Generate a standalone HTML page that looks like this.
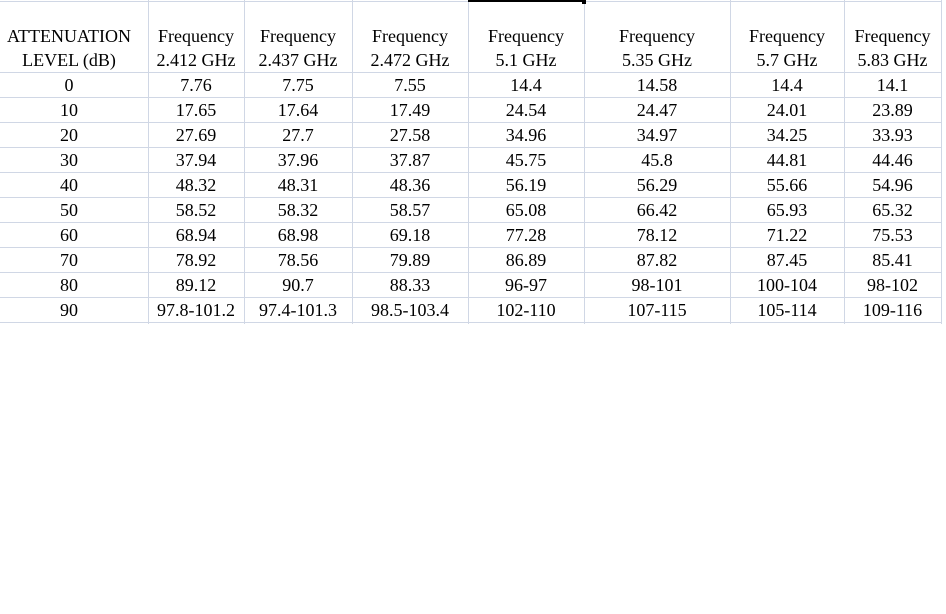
<!DOCTYPE html>
<html><head><meta charset="utf-8"><style>
body{margin:0;background:#fff;width:946px;height:614px;overflow:hidden;position:relative;font-family:"Liberation Serif",serif;font-size:18px;color:#000}
.v{position:absolute;top:0;width:1px;height:324px;background:#d0d7e5}
.h{position:absolute;left:0;width:942px;height:1px;background:#d0d7e5}
.t{position:absolute;text-align:center;line-height:24px;white-space:nowrap}
</style></head><body>
<div class="h" style="top:1px"></div>
<div id="g"></div>
<div style="position:absolute;left:468px;top:0;width:116px;height:2px;background:#000"></div>
<div style="position:absolute;left:582px;top:0;width:4px;height:4px;background:#000"></div>
<script>
var xs=[0,148,244,352,468,584,730,844,941];
var g=document.getElementById('g'),h='';
for(var i=1;i<xs.length;i++)h+='<div class="v" style="left:'+xs[i]+'px"></div>';
for(var y=72;y<=322;y+=25)h+='<div class="h" style="top:'+y+'px"></div>';
var head=[['ATTENUATION','LEVEL (dB)'],['Frequency','2.412 GHz'],['Frequency','2.437 GHz'],['Frequency','2.472 GHz'],['Frequency','5.1 GHz'],['Frequency','5.35 GHz'],['Frequency','5.7 GHz'],['Frequency','5.83 GHz']];
var rows=[['0','7.76','7.75','7.55','14.4','14.58','14.4','14.1'],['10','17.65','17.64','17.49','24.54','24.47','24.01','23.89'],['20','27.69','27.7','27.58','34.96','34.97','34.25','33.93'],['30','37.94','37.96','37.87','45.75','45.8','44.81','44.46'],['40','48.32','48.31','48.36','56.19','56.29','55.66','54.96'],['50','58.52','58.32','58.57','65.08','66.42','65.93','65.32'],['60','68.94','68.98','69.18','77.28','78.12','71.22','75.53'],['70','78.92','78.56','79.89','86.89','87.82','87.45','85.41'],['80','89.12','90.7','88.33','96-97','98-101','100-104','98-102'],['90','97.8-101.2','97.4-101.3','98.5-103.4','102-110','107-115','105-114','109-116']];
for(var c=0;c<8;c++){var l=xs[c],w=xs[c+1]-xs[c];if(c==0)w=138;
h+='<div class="t" style="left:'+l+'px;width:'+w+'px;top:24px">'+head[c][0]+'</div>';
h+='<div class="t" style="left:'+l+'px;width:'+w+'px;top:48px">'+head[c][1]+'</div>';
for(var r=0;r<rows.length;r++)h+='<div class="t" style="left:'+l+'px;width:'+w+'px;top:'+(73+r*25)+'px">'+rows[r][c]+'</div>';}
g.innerHTML=h;
</script>
</body></html>
